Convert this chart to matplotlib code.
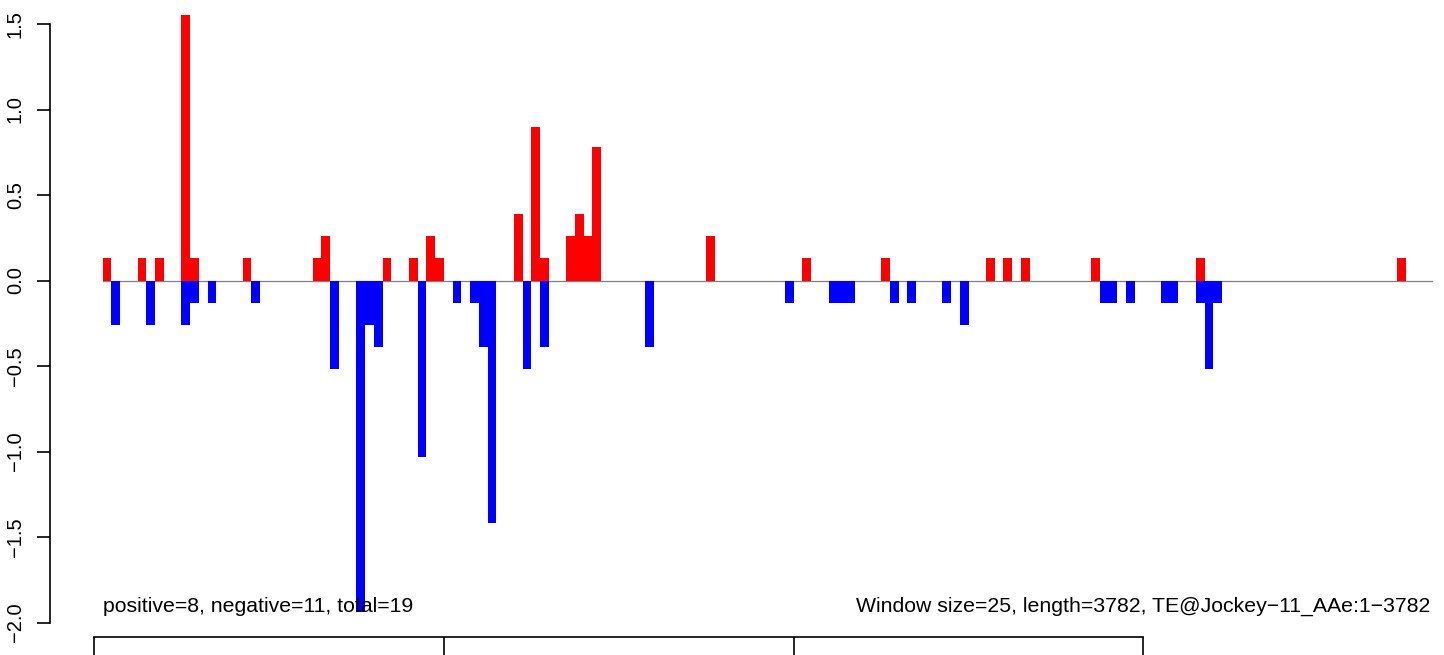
import matplotlib
matplotlib.use("Agg")
import matplotlib.pyplot as plt

# ---- data ----
window_size = 25
seq_length = 3782
pos_window = [1, 5, 7, 10, 11, 17, 25, 26, 33, 36, 38, 39, 48, 50, 51, 54, 55, 56, 57,
              70, 81, 90, 102, 104, 106, 114, 126, 149]
pos_value = [0.13, 0.13, 0.13, 1.55, 0.13, 0.13, 0.13, 0.26, 0.13, 0.13, 0.26, 0.13, 0.39,
             0.90, 0.13, 0.26, 0.39, 0.26, 0.78, 0.26, 0.13, 0.13, 0.13, 0.13, 0.13, 0.13,
             0.13, 0.13]
neg_window = [2, 6, 10, 11, 13, 18, 27, 30, 31, 32, 37, 41, 43, 44, 45, 49, 51, 63, 79,
              84, 85, 86, 91, 93, 97, 99, 115, 116, 118, 122, 123, 126, 127, 128]
neg_value = [-0.26, -0.26, -0.26, -0.13, -0.13, -0.13, -0.52, -1.94, -0.26, -0.39, -1.03,
             -0.13, -0.13, -0.39, -1.42, -0.52, -0.39, -0.39, -0.13, -0.13, -0.13, -0.13,
             -0.13, -0.13, -0.13, -0.26, -0.13, -0.13, -0.13, -0.13, -0.13, -0.13, -0.52,
             -0.13]
y_ticks = [-2.0, -1.5, -1.0, -0.5, 0.0, 0.5, 1.0, 1.5]
x_ticks = [0, 1000, 2000, 3000]
left_note = "positive=8, negative=11, total=19"
right_note = "Window size=25, length=3782, TE@Jockey\u221211_AAe:1\u22123782"

plt.rcParams['font.family'] = ['Liberation Sans', 'DejaVu Sans']

W, H, DPI = 1444, 655, 100
fig = plt.figure(figsize=(W / DPI, H / DPI), dpi=DPI)
ax = fig.add_axes([0, 0, 1, 1])

# pixel -> data mapping for layout
px_per_bp = 0.3498
x0_px = 94
y0_px = 280.5
px_per_unit = 171.0
ax.set_xlim(-x0_px / px_per_bp, (W - x0_px) / px_per_bp)
ax.set_ylim(-(H - y0_px) / px_per_unit, y0_px / px_per_unit)

def bx(px):
    return (px - x0_px) / px_per_bp

def vy(py):
    return (y0_px - py) / px_per_unit

# zero line
ax.plot([window_size, 3825], [0, 0], color='#808080', lw=0.9, zorder=1)

# bars
ax.bar([w * window_size for w in pos_window], pos_value, width=window_size,
       align='edge', color='#FF0000', linewidth=0, zorder=2)
ax.bar([w * window_size for w in neg_window], neg_value, width=window_size,
       align='edge', color='#0000FF', linewidth=0, zorder=2)

# axes styling (R-like detached axes)
for s in ['top', 'right']:
    ax.spines[s].set_visible(False)
ax.spines['left'].set_position(('data', bx(50)))
ax.spines['left'].set_bounds(y_ticks[0], y_ticks[-1])
ax.spines['bottom'].set_position(('data', vy(636.7)))
ax.spines['bottom'].set_bounds(x_ticks[0], x_ticks[-1])
for s in ['left', 'bottom']:
    ax.spines[s].set_linewidth(1.2)

ax.set_yticks(y_ticks)
ax.set_yticklabels([f"{t:.1f}".replace('-', '\u2212') for t in y_ticks],
                   rotation=90, va='center', fontsize=14.5)
ax.tick_params(axis='y', direction='out', length=9.5, width=1.2, pad=8.5)
ax.set_xticks(x_ticks)
ax.set_xticklabels([])
ax.tick_params(axis='x', direction='out', length=14, width=1.2)

# annotations
ax.text(window_size, vy(611.5), left_note, ha='left', va='baseline', fontsize=15.3)
ax.text(bx(1430), vy(611.5), right_note, ha='right', va='baseline', fontsize=15.3)

fig.savefig("out.png", dpi=DPI)
